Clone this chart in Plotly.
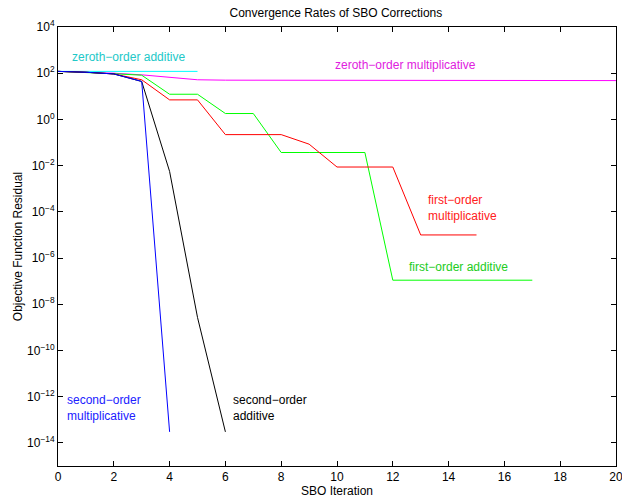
import plotly.graph_objects as go

# Data (objective function residual per SBO iteration)
zeroth_add_x = [0, 1, 2, 3, 4, 5]
zeroth_add_y = [120, 120, 120, 120, 120, 120]

zeroth_mult_x = list(range(0, 21))
zeroth_mult_y = [120, 110, 100, 85, 65, 52, 50, 50, 49, 49, 49, 49, 48, 48, 48, 48, 48, 48, 48, 48, 48]

first_add_x = list(range(0, 18))
first_add_y = [120, 110, 95, 82, 12.3, 12.3, 1.8, 1.8, 0.037, 0.037, 0.037, 0.037,
               1.1e-7, 1.1e-7, 1.1e-7, 1.1e-7, 1.1e-7, 1.1e-7]

first_mult_x = list(range(0, 16))
first_mult_y = [120, 110, 93, 52, 7, 7, 0.22, 0.22, 0.22, 0.085, 0.0087, 0.0087, 0.0087,
                1e-5, 1e-5, 1e-5]

second_add_x = [0, 1, 2, 3, 4, 5, 6]
second_add_y = [120, 110, 93, 44, 5.6e-3, 2.7e-9, 3e-14]

second_mult_x = [0, 1, 2, 3, 4]
second_mult_y = [120, 110, 93, 44, 3e-14]

x_ticks = [0, 2, 4, 6, 8, 10, 12, 14, 16, 18, 20]
y_exponents = [-14, -12, -10, -8, -6, -4, -2, 0, 2, 4]

series = [
    (zeroth_add_x, zeroth_add_y, "#00ffff"),
    (zeroth_mult_x, zeroth_mult_y, "#ff00ff"),
    (first_add_x, first_add_y, "#00ff00"),
    (first_mult_x, first_mult_y, "#ff0000"),
    (second_add_x, second_add_y, "#000000"),
    (second_mult_x, second_mult_y, "#0000ff"),
]

FONT = "Liberation Sans, Arial, Helvetica, sans-serif"

fig = go.Figure()
for xs, ys, col in series:
    fig.add_trace(go.Scatter(x=xs, y=ys, mode="lines",
                             line=dict(color=col, width=1), showlegend=False))

labels = [
    ("zeroth\u2212order additive", 0.42, 2.70, "#22c8c8"),
    ("zeroth\u2212order multiplicative", 9.85, 2.36, "#e020e0"),
    ("first\u2212order<br>multiplicative", 13.2, -3.82, "#ff2020"),
    ("first\u2212order additive", 12.5, -6.38, "#22cc22"),
    ("second\u2212order<br>multiplicative", 0.25, -12.5, "#2020ff"),
    ("second\u2212order<br>additive", 6.2, -12.5, "#000000"),
]
for text, x, y, col in labels:
    fig.add_annotation(x=x, y=y, xref="x", yref="y", text=text, showarrow=False,
                       xanchor="left", yanchor="middle", align="left",
                       font=dict(family=FONT, size=12, color=col))

axis_common = dict(showline=True, linecolor="black", linewidth=1, mirror="ticks",
                   ticks="inside", ticklen=5, tickcolor="black", showgrid=False,
                   zeroline=False, ticklabeloverflow="allow", automargin=False,
                   tickfont=dict(family=FONT, size=12, color="black"))

fig.update_layout(
    width=622, height=502,
    margin=dict(l=58, r=6, t=27, b=36),
    paper_bgcolor="white", plot_bgcolor="white",
    title=dict(text="Convergence Rates of SBO Corrections", x=0.54, xanchor="center",
               y=0.975, yanchor="middle", font=dict(family=FONT, size=12, color="black")),
    xaxis=dict(range=[0, 20], tickmode="array", tickvals=x_ticks,
               ticktext=[str(v) for v in x_ticks],
               title=dict(text="SBO Iteration", standoff=2,
                          font=dict(family=FONT, size=12, color="black")),
               **axis_common),
    yaxis=dict(type="log", range=[-15, 4], tickmode="array",
               tickvals=[10.0 ** e for e in y_exponents],
               ticktext=["10<sup>" + str(e).replace("-", "\u2212") + "</sup>" for e in y_exponents],
               title=dict(text="Objective Function Residual", standoff=1,
                          font=dict(family=FONT, size=12, color="black")),
               **axis_common),
)

fig.write_html("out.html")
